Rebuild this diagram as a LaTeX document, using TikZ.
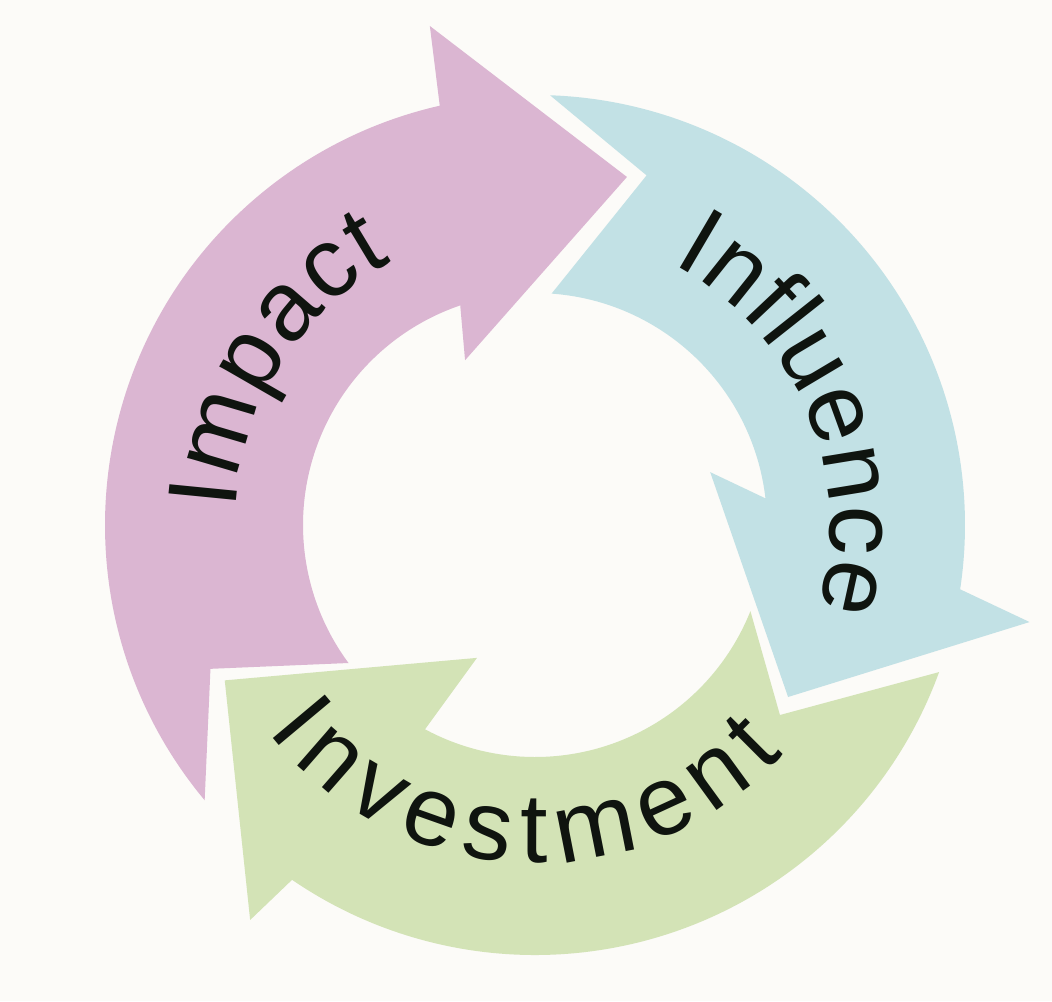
\documentclass[tikz,border=0pt]{standalone}
\usepackage{fontspec}
\setmainfont{Liberation Sans}
\usetikzlibrary{decorations.text}
\definecolor{paper}{RGB}{252,251,248}
\definecolor{impactpink}{RGB}{219,182,210}
\definecolor{influenceblue}{RGB}{194,225,229}
\definecolor{investgreen}{RGB}{211,227,182}
\definecolor{labelink}{RGB}{15,20,15}
\newcommand{\labelfont}{\fontsize{28}{30}\selectfont}

\begin{document}
\begin{tikzpicture}[
    band/.style={fill=#1, draw=none},
    arclabel/.style={decorate, decoration={text along path, text align=fit to path, text color=labelink, text={|\labelfont|#1}}}
]
    % Background
    \useasboundingbox (-5.35,-4.76) rectangle (5.17,5.25);
    \fill[paper] (-5.35,-4.76) rectangle (5.17,5.25);

    % Arrows
    \fill[band=impactpink] (219.8:4.3) arc[start angle=219.8, end angle=102.8, radius=4.3] -- (101.9:5.1) -- (75.2:3.6) -- (113:1.79) -- (108.8:2.32) arc[start angle=108.8, end angle=216.5, radius=2.32] -- (203.9:3.55) -- cycle;
    \fill[band=influenceblue] (88:4.3) arc[start angle=88, end angle=-8.6, radius=4.3] -- (-11.1:5.04) -- (-34.2:3.06) -- (16.8:1.83) -- (6.6:2.32) arc[start angle=6.6, end angle=85.9, radius=2.32] -- (72.3:3.67) -- cycle;
    \fill[band=investgreen] (-20:4.3) arc[start angle=-20, end angle=-124.4, radius=4.3] -- (234.2:4.87) -- (206.6:3.47) -- (246.4:1.45) -- (241.7:2.32) arc[start angle=241.7, end angle=338.2, radius=2.32] -- (322.2:3.1) -- cycle;

    % Labels
    \path[arclabel=Impact] (177:3.0) arc[start angle=177, end angle=118.5, radius=3.0];
    \path[arclabel=Influence] (62.2:2.95) arc[start angle=62.2, end angle=-16.6, radius=2.95];
    \path[arclabel=Investment] (217.6:3.38) arc[start angle=217.6, end angle=317.3, radius=3.38];
\end{tikzpicture}
\end{document}
